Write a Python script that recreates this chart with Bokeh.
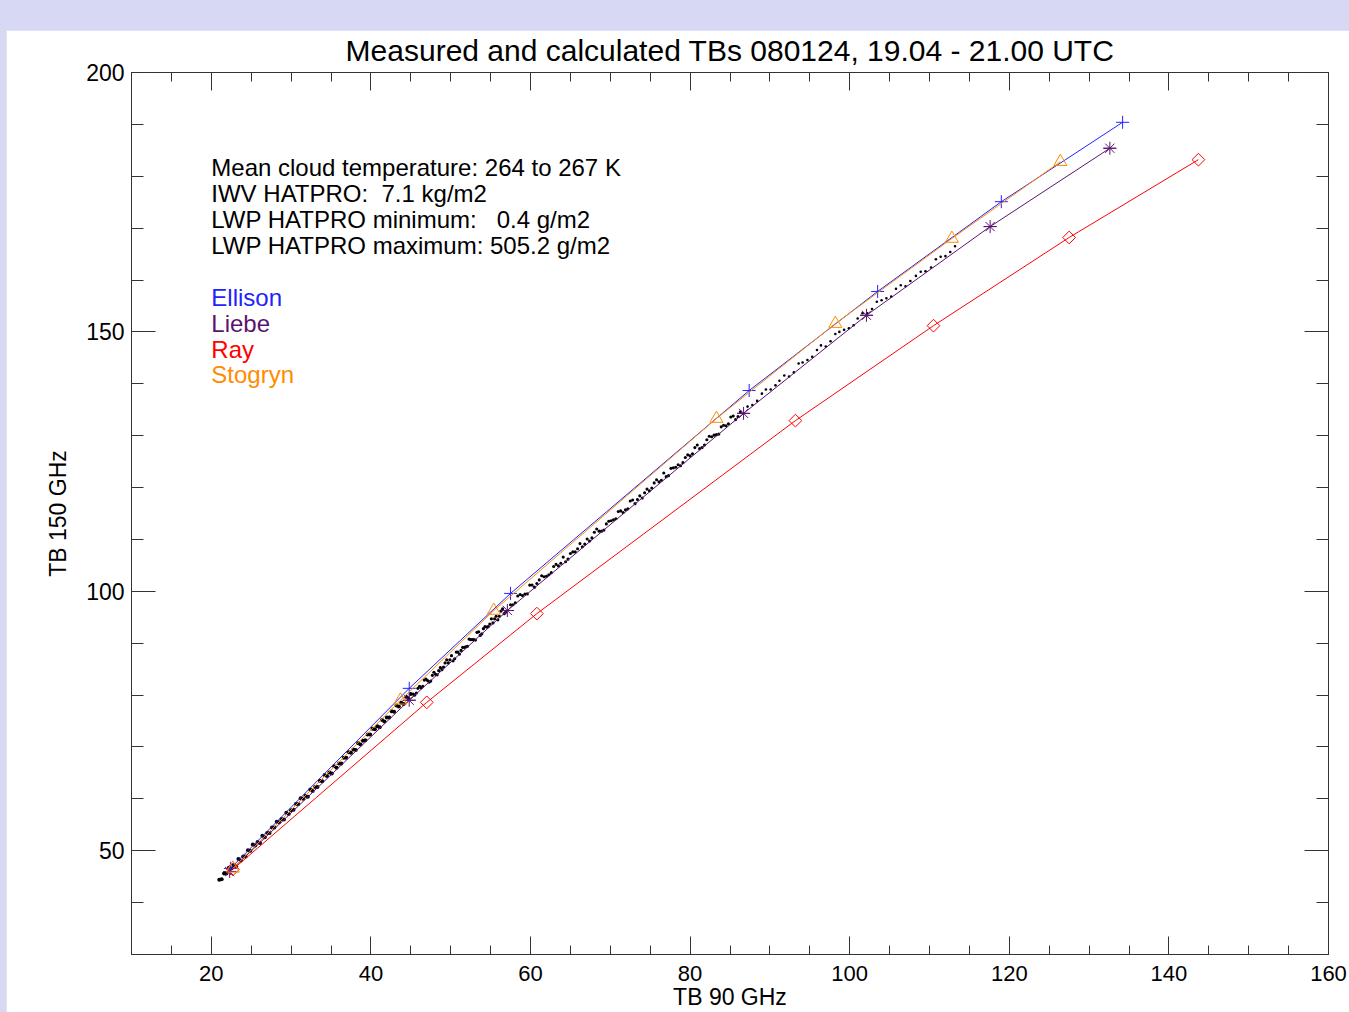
import numpy as np
from bokeh.plotting import figure
from bokeh.models import (Range1d, LinearAxis, SingleIntervalTicker,
                          CustomJSTickFormatter, Label)
from bokeh.embed import file_html
from bokeh.resources import INLINE

FONT = "Liberation Sans"

TITLE = "Measured and calculated TBs 080124, 19.04 - 21.00 UTC"

# Simulated brightness temperatures for the four absorption models
ellison_x = [22.4, 44.8, 57.5, 87.4, 103.5, 119.0, 134.2]
ellison_y = [46.6, 81.3, 99.6, 138.7, 157.8, 175.1, 190.4]
liebe_x = [22.3, 44.8, 57.1, 86.7, 102.1, 117.6, 132.6]
liebe_y = [46.0, 79.0, 96.3, 134.3, 153.2, 170.3, 185.4]
ray_x = [22.7, 47.0, 60.8, 93.2, 110.5, 127.5, 143.7]
ray_y = [46.4, 78.6, 95.7, 132.9, 151.2, 168.2, 183.2]
stogryn_x = [22.7, 43.7, 55.4, 83.3, 98.2, 112.8, 126.4]
stogryn_y = [46.6, 79.0, 96.3, 133.3, 151.6, 168.0, 182.8]

# Measured HATPRO 90 GHz / 150 GHz brightness temperatures
tb90_low = [21.0, 21.3, 21.6, 21.9, 22.2, 22.5, 22.8, 23.1, 23.4, 23.7,
            24.0, 24.3, 24.6, 24.9, 25.2, 25.5, 25.8, 26.1, 26.4, 26.7,
            27.0, 27.3, 27.6, 27.9, 28.2, 28.5, 28.8, 29.1, 29.4, 29.7,
            30.0, 30.3, 30.6, 30.9, 31.2, 31.5, 31.8, 32.1, 32.4, 32.7,
            33.0, 33.3, 33.6, 33.9, 34.2, 34.5, 34.8, 35.1, 35.4, 35.7,
            36.0, 36.3, 36.6, 36.9, 37.2, 37.5, 37.8, 38.1, 38.4, 38.7,
            39.0, 39.3, 39.6, 39.9, 40.2, 40.5, 40.8, 41.1, 41.4, 41.7,
            42.0, 42.3, 42.6, 42.9, 43.2, 43.5, 43.8, 44.1, 44.4, 44.7,
            45.0]
tb150_low = [44.4, 44.5, 45.6, 45.6, 46.7, 46.6, 47.2, 47.0, 48.4, 48.1,
             48.9, 48.9, 50.1, 50.0, 51.2, 51.0, 51.7, 51.5, 52.9, 52.6,
             53.4, 53.4, 54.5, 54.5, 55.6, 55.5, 56.1, 56.0, 57.3, 57.1,
             57.8, 57.9, 59.0, 59.0, 60.1, 60.0, 60.6, 60.4, 61.8, 61.5,
             62.3, 62.3, 63.5, 63.4, 64.6, 64.4, 65.1, 64.9, 66.3, 66.0,
             66.8, 66.8, 67.9, 67.9, 69.0, 68.9, 69.5, 69.4, 70.7, 70.5,
             71.2, 71.3, 72.4, 72.4, 73.5, 73.4, 74.0, 73.8, 75.2, 74.9,
             75.7, 75.7, 76.9, 76.8, 78.0, 77.8, 78.5, 78.3, 79.7, 79.4,
             80.2]
tb90_mid = [45.3, 45.7, 46.1, 46.5, 46.9, 47.3, 47.7, 48.1, 48.5, 48.9,
            49.3, 49.7, 50.1, 50.5, 50.9, 51.3, 51.7, 52.1, 52.5, 52.9,
            53.3, 53.7, 54.1, 54.5, 54.9, 55.3, 55.7, 56.1, 56.5, 56.9,
            45.5, 45.9, 46.3, 46.7, 47.1, 47.5, 47.9, 48.3, 48.7, 49.1,
            49.5, 49.9, 50.3, 50.7, 51.1, 51.5, 51.9, 52.3, 52.7, 53.1,
            53.5, 53.9, 54.3, 54.7, 55.1, 55.5, 55.9, 56.3, 56.7]
tb150_mid = [80.2, 80.4, 81.7, 81.7, 83.1, 82.5, 83.8, 84.0, 84.7, 84.9,
             86.2, 86.2, 87.6, 87.0, 88.3, 88.6, 89.2, 89.4, 90.7, 90.7,
             92.1, 91.5, 92.8, 93.1, 93.7, 93.9, 95.2, 95.2, 96.6, 96.0,
             80.0, 81.3, 81.4, 82.9, 82.8, 82.7, 84.4, 83.9, 85.3, 85.4,
             86.8, 86.8, 86.6, 88.3, 87.9, 89.2, 89.3, 90.8, 90.7, 90.6,
             92.2, 91.8, 93.2, 93.2, 94.7, 94.7, 94.5, 96.2, 95.7]
tb90_high = [57.5, 58.1, 58.7, 59.3, 59.9, 60.5, 61.1, 61.7, 62.3, 62.9,
             63.5, 64.1, 64.7, 65.3, 65.9, 66.5, 67.1, 67.7, 68.3, 68.9,
             69.5, 70.1, 70.7, 71.3, 71.9, 72.5, 73.1, 73.7, 74.3, 74.9,
             75.5, 76.1, 76.7, 77.3, 77.9, 78.5, 79.1, 79.7, 80.3, 80.9,
             81.5, 82.1, 82.7, 83.3, 83.9, 84.5, 85.1, 85.7, 86.3,
             57.8, 58.4, 59.0, 59.6, 60.2, 60.8, 61.4, 62.0, 62.6, 63.2,
             63.8, 64.4, 65.0, 65.6, 66.2, 66.8, 67.4, 68.0, 68.6, 69.2,
             69.8, 70.4, 71.0, 71.6, 72.2, 72.8, 73.4, 74.0, 74.6, 75.2,
             75.8, 76.4, 77.0, 77.6, 78.2, 78.8, 79.4, 80.0, 80.6, 81.2,
             81.8, 82.4, 83.0, 83.6, 84.2, 84.8, 85.4, 86.0]
tb150_high = [97.4, 97.8, 99.4, 99.5, 101.2, 100.8, 102.2, 102.8, 103.2, 104.8,
              104.9, 106.6, 106.2, 107.6, 108.2, 108.6, 110.1, 110.3, 112.0, 111.6,
              113.0, 113.6, 114.0, 115.5, 115.7, 117.4, 116.9, 118.4, 119.0, 119.4,
              120.9, 121.1, 122.8, 122.3, 123.8, 124.4, 124.8, 126.3, 126.5, 128.2,
              127.7, 129.2, 129.8, 130.2, 131.7, 131.9, 133.6, 133.1, 134.6,
              97.4, 99.1, 99.2, 99.5, 101.2, 101.5, 103.0, 102.9, 103.6, 105.2,
              105.4, 105.7, 107.3, 107.6, 109.2, 109.1, 109.7, 111.4, 111.6, 111.8,
              113.5, 113.8, 115.4, 115.2, 115.9, 117.6, 117.7, 118.0, 119.7, 119.9,
              121.5, 121.4, 122.1, 123.7, 123.9, 124.2, 125.8, 126.1, 127.7, 127.5,
              128.2, 129.9, 130.1, 130.3, 132.0, 132.3, 133.8, 133.7]
tb90_top = [87.2, 88.4, 89.5, 90.7, 91.8, 93.0, 94.1, 95.3, 96.4, 97.6,
            98.7, 99.9, 101.0, 102.2, 103.4, 104.6, 105.8, 107.0, 108.3,
            109.5, 110.8, 112.0, 113.2,
            87.8, 89.0, 90.1, 91.2, 92.4, 93.6, 94.7, 95.9, 97.0, 98.2,
            99.3, 100.5, 101.6, 102.8, 104.0, 105.2, 106.4, 107.6, 108.9,
            110.2, 111.4, 112.6]
tb150_top = [135.6, 136.7, 138.9, 139.7, 141.6, 142.2, 144.1, 145.2, 147.4, 148.2,
             150.0, 150.7, 152.6, 153.6, 155.8, 156.5, 158.3, 158.8, 160.8,
             161.7, 164.0, 164.6, 166.5,
             135.9, 138.1, 138.9, 140.6, 141.4, 143.9, 144.6, 146.5, 147.2, 149.6,
             150.4, 151.3, 153.6, 154.4, 156.1, 156.8, 159.0, 159.8, 161.6,
             162.4, 164.5, 165.4]

info_lines = [
    "Mean cloud temperature: 264 to 267 K",
    "IWV HATPRO:\u00a0 7.1 kg/m2",
    "LWP HATPRO minimum:\u00a0 \u00a00.4 g/m2",
    "LWP HATPRO maximum: 505.2 g/m2",
]
info_y = [181.7, 176.7, 171.7, 166.7]
model_names = ["Ellison", "Liebe", "Ray", "Stogryn"]
model_label_y = [156.7, 151.7, 146.7, 141.7]

BLUE = "#2222ff"
PURPLE = "#5a1470"
RED = "#ff0000"
ORANGE = "#ff8c00"
model_colors = [BLUE, PURPLE, RED, ORANGE]
FRAME = "#333333"

p = figure(width=1343, height=982,
           x_range=Range1d(10, 160), y_range=Range1d(30, 200),
           output_backend="svg", toolbar_location=None,
           min_border_left=125, min_border_right=21,
           min_border_top=42, min_border_bottom=58,
           margin=(30, 0, 0, 6), title=TITLE,
           background_fill_color="white", border_fill_color="white",
           outline_line_color=FRAME)
p.grid.visible = False

p.title.align = "center"
p.title.vertical_align = "top"
p.title.text_font = FONT
p.title.text_font_size = "30px"
p.title.text_font_style = "normal"
p.title.text_color = "black"
p.title.standoff = 7


def style_axis(ax, major_len, minor_len):
    ax.axis_line_color = FRAME
    ax.major_tick_line_color = FRAME
    ax.minor_tick_line_color = FRAME
    ax.major_tick_in = major_len
    ax.major_tick_out = 0
    ax.minor_tick_in = minor_len
    ax.minor_tick_out = 0
    ax.major_label_text_font = FONT
    ax.major_label_text_font_size = "23px"
    ax.major_label_text_color = "black"


xt = SingleIntervalTicker(interval=20, num_minor_ticks=4)
yt = SingleIntervalTicker(interval=50, num_minor_ticks=5)

xa = p.xaxis[0]
xa.ticker = xt
style_axis(xa, 18, 9)
xa.major_label_text_font_size = "22px"
xa.major_label_standoff = 11
xa.axis_label = "TB 90 GHz"
xa.axis_label_text_font = FONT
xa.axis_label_text_font_size = "23px"
xa.axis_label_text_font_style = "normal"
xa.axis_label_text_color = "black"
xa.axis_label_standoff = 0

ya = p.yaxis[0]
ya.ticker = yt
style_axis(ya, 24, 12)
ya.major_label_standoff = 7
ya.axis_label = "TB 150 GHz"
ya.axis_label_text_font = FONT
ya.axis_label_text_font_size = "23px"
ya.axis_label_text_font_style = "normal"
ya.axis_label_text_color = "black"
ya.axis_label_standoff = 12

blank = CustomJSTickFormatter(code="return ''")
top_ax = LinearAxis(ticker=xt, formatter=blank)
style_axis(top_ax, 18, 9)
top_ax.major_label_text_font_size = "1px"
top_ax.major_label_standoff = 0
p.add_layout(top_ax, "above")

right_ax = LinearAxis(ticker=yt, formatter=blank)
style_axis(right_ax, 24, 12)
right_ax.major_label_text_font_size = "1px"
right_ax.major_label_standoff = 0
p.add_layout(right_ax, "right")

# measured points: dense lower branch, then progressively sparser
p.scatter(tb90_low, tb150_low, marker="circle", size=4,
          fill_color="black", line_color=None)
p.scatter(tb90_mid, tb150_mid, marker="circle", size=3.2,
          fill_color="black", line_color=None)
p.scatter(tb90_high, tb150_high, marker="circle", size=3.1,
          fill_color="black", line_color=None)
p.scatter(tb90_top, tb150_top, marker="circle", size=2.6,
          fill_color="black", line_color=None)

# model curves
p.line(ellison_x, ellison_y, line_color=BLUE, line_width=1)
p.scatter(ellison_x, ellison_y, marker="cross", size=13,
          line_color=BLUE, line_width=1)

p.line(liebe_x, liebe_y, line_color=PURPLE, line_width=1)
p.scatter(liebe_x, liebe_y, marker="asterisk", size=13,
          line_color=PURPLE, line_width=1)
p.scatter(liebe_x, liebe_y, marker="dash", size=13,
          line_color=PURPLE, line_width=1)

p.line(ray_x, ray_y, line_color=RED, line_width=1)
p.scatter(ray_x, ray_y, marker="square", angle=np.pi / 4, size=9,
          fill_color=None, line_color=RED, line_width=1)

p.line(stogryn_x, stogryn_y, line_color=ORANGE, line_width=1)
p.scatter(stogryn_x, stogryn_y, marker="triangle", size=13,
          fill_color=None, line_color=ORANGE, line_width=1)

for txt, yy in zip(info_lines, info_y):
    p.add_layout(Label(x=20, y=yy, text=txt, text_baseline="alphabetic",
                       text_font=FONT, text_font_size="24px",
                       text_color="black"))

for name, yy, col in zip(model_names, model_label_y, model_colors):
    p.add_layout(Label(x=20, y=yy, text=name, text_baseline="alphabetic",
                       text_font=FONT, text_font_size="24px",
                       text_color=col))

html = file_html(p, INLINE, title="TB 90 vs 150 GHz")
page_css = ("<style>html, body {margin: 0 !important; padding: 0; "
            "background-color: #d7d8f4 !important; overflow: hidden;}</style>")
html = html.replace("</head>", page_css + "\n</head>", 1)
with open("out.html", "w") as f:
    f.write(html)
